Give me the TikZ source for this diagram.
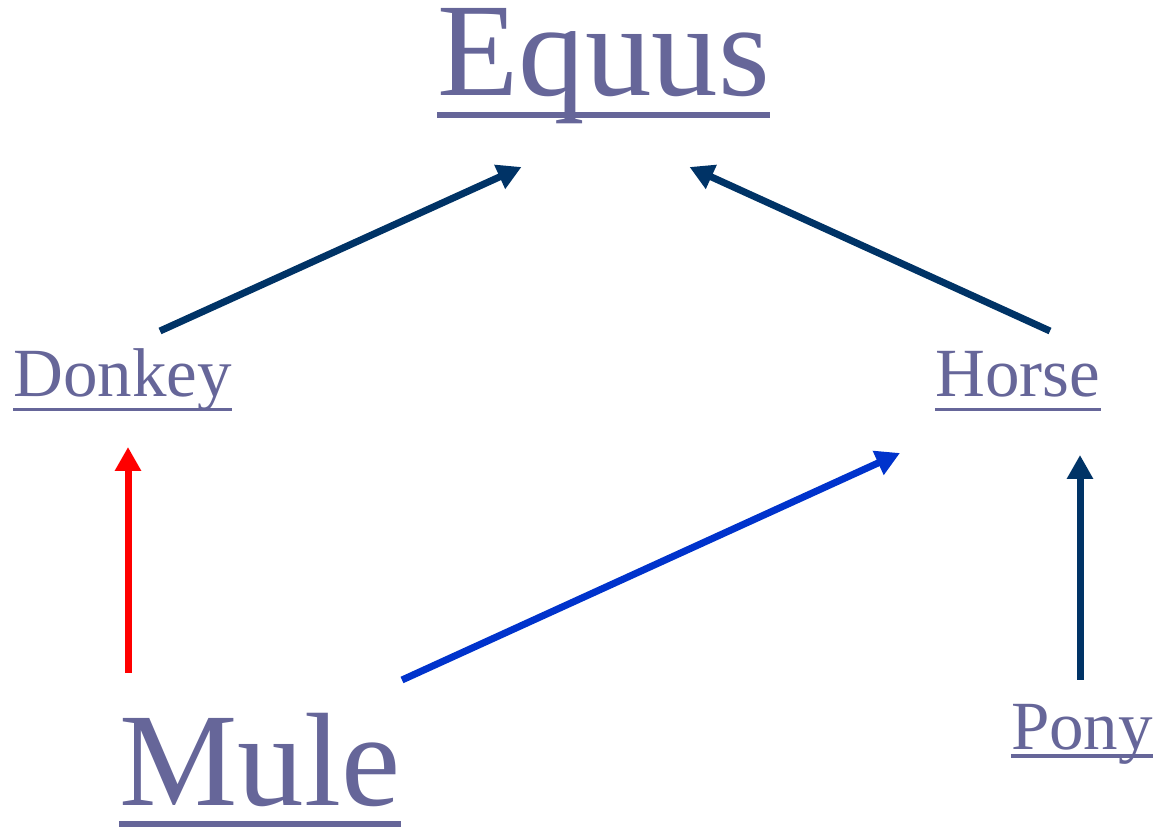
\documentclass[tikz,border=0pt]{standalone}
\usepackage{fontspec}
\setmainfont{Liberation Serif}
\usetikzlibrary{arrows.meta}
\definecolor{taxon}{HTML}{666699}
\definecolor{navyarr}{HTML}{003366}
\definecolor{bluearr}{HTML}{0033CC}
\definecolor{redarr}{HTML}{FF0000}

\begin{document}
\begin{tikzpicture}[x=1pt,y=1pt,
  big/.style={inner sep=0pt,anchor=base,text=taxon,font=\fontsize{133}{133}\selectfont},
  small/.style={inner sep=0pt,anchor=base,text=taxon,font=\fontsize{69}{69}\selectfont},
  uline/.style={draw=taxon,line width=#1},
  arr/.style={line width=7pt,-{Triangle[length=24pt,width=25pt]}}]
\useasboundingbox (0,0) rectangle (1157,829);
% names
\node[big] (eq) at (603.5,733) {Equus};
\node[small] (dk) at (122.5,432) {Donkey};
\node[small] (hs) at (1018,432) {Horse};
\node[big] (ml) at (260,23) {Mule};
\node[small] (pn) at (1082,79) {Pony};
% underlines
\draw[uline=6pt] ([yshift=-19pt]eq.base west) -- ([yshift=-19pt]eq.base east);
\draw[uline=6pt] ([yshift=-18pt]ml.base west) -- ([yshift=-18pt]ml.base east);
\draw[uline=3.5pt] ([yshift=-12.5pt]dk.base west) -- ([yshift=-12.5pt]dk.base east);
\draw[uline=3.5pt] ([yshift=-12.5pt]hs.base west) -- ([yshift=-12.5pt]hs.base east);
\draw[uline=3.5pt] ([yshift=-6pt]pn.base west) -- ([yshift=-6pt]pn.base east);
% arrows
\draw[arr,navyarr] ([shift={(37.5,66)}]dk.base) -- ([shift={(-82,-71)}]eq.base);
\draw[arr,navyarr] ([shift={(32,66)}]hs.base) -- ([shift={(86,-71)}]eq.base);
\draw[arr,redarr] ([shift={(-132,133)}]ml.base) -- ([shift={(5.5,-50)}]dk.base);
\draw[arr,bluearr] ([shift={(142,126)}]ml.base) -- ([shift={(-118,-56)}]hs.base);
\draw[arr,navyarr] ([shift={(-2,70)}]pn.base) -- ([shift={(62,-58)}]hs.base);
\end{tikzpicture}
\end{document}
